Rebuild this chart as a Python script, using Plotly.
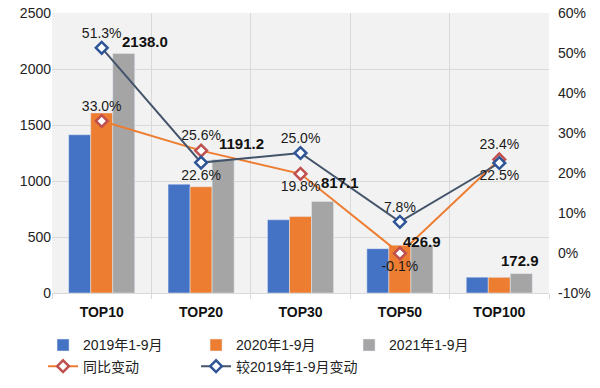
import plotly.graph_objects as go

categories = ["TOP10", "TOP20", "TOP30", "TOP50", "TOP100"]
sales_2019 = [1413.0, 971.6, 653.7, 396.0, 141.1]
sales_2020 = [1607.5, 948.4, 682.1, 427.3, 140.1]
sales_2021 = [2138.0, 1191.2, 817.1, 426.9, 172.9]
yoy_change = [33.0, 25.6, 19.8, -0.1, 23.4]
vs2019_change = [51.3, 22.6, 25.0, 7.8, 22.5]
yoy_text_pos = ["top center", "top center", "bottom center", "bottom center", "top center"]
vs2019_text_pos = ["top center", "bottom center", "top center", "top center", "bottom center"]
left_ticks = [0, 500, 1000, 1500, 2000, 2500]
right_ticks = [-10, 0, 10, 20, 30, 40, 50, 60]
right_tick_labels = ["-10%", "0%", "10%", "20%", "30%", "40%", "50%", "60%"]

# pixel nudges of the 2021 value labels (as placed in the original chart)
label_xshift = [43, 40, 39, 22, 21]
label_yshift = [2, 6, 8, -7, 3]

FONT = "Liberation Sans, Arial, Noto Sans CJK SC, sans-serif"

fig = go.Figure()
fig.add_trace(go.Bar(x=categories, y=sales_2019, name="2019年1-9月", marker_color="#4472C4"))
fig.add_trace(go.Bar(x=categories, y=sales_2020, name="2020年1-9月", marker_color="#ED7D31"))
fig.add_trace(go.Bar(x=categories, y=sales_2021, name="2021年1-9月", marker_color="#A5A5A5"))

fig.add_trace(go.Scatter(
    x=categories, y=yoy_change, name="同比变动", yaxis="y2",
    mode="lines+markers+text",
    line=dict(color="#ED7D31", width=2),
    marker=dict(symbol="diamond", size=9, color="white", line=dict(color="#C0504D", width=2.5)),
    text=[f"{v:.1f}%" for v in yoy_change], textposition=yoy_text_pos,
    textfont=dict(size=14, color="#1a1a1a"),
))
fig.add_trace(go.Scatter(
    x=categories, y=vs2019_change, name="较2019年1-9月变动", yaxis="y2",
    mode="lines+markers+text",
    line=dict(color="#44546A", width=2),
    marker=dict(symbol="diamond", size=9, color="white", line=dict(color="#2F5597", width=2.5)),
    text=[f"{v:.1f}%" for v in vs2019_change], textposition=vs2019_text_pos,
    textfont=dict(size=14, color="#1a1a1a"),
))

for c, v, dx, dy in zip(categories, sales_2021, label_xshift, label_yshift):
    fig.add_annotation(x=c, y=v, xref="x", yref="y", text=f"<b>{v:.1f}</b>",
                       showarrow=False, xshift=dx, yanchor="bottom", yshift=dy,
                       font=dict(size=15, color="#111111"))

fig.update_layout(
    width=600, height=388,
    margin=dict(l=52, r=51, t=13, b=95, autoexpand=False),
    paper_bgcolor="white", plot_bgcolor="#F2F2F2",
    font=dict(family=FONT, size=14, color="#222222"),
    barmode="group", bargap=0.335, bargroupgap=0,
    showlegend=True,
    legend=dict(orientation="h", x=-0.018, y=-0.13, xanchor="left", yanchor="top",
                entrywidth=108, font=dict(size=14, color="#222222"),
                tracegroupgap=0, itemwidth=30),
    xaxis=dict(type="category", tickson="boundaries", showgrid=True, gridcolor="#D9D9D9",
               showline=True, linecolor="#D9D9D9", ticks="outside", ticklen=5, tickcolor="#D9D9D9",
               tickfont=dict(size=14, color="#111111", family=FONT), tickprefix="<b>", ticksuffix="</b>",
               range=[-0.5, 4.5], automargin=False, ticklabelstandoff=6),
    yaxis=dict(range=[0, 2500], tickvals=left_ticks, showgrid=True, gridcolor="#D9D9D9",
               zeroline=False, tickfont=dict(size=14), ticks="", automargin=False),
    yaxis2=dict(range=[-10, 60], tickvals=right_ticks, ticktext=right_tick_labels,
                overlaying="y", side="right", showgrid=False,
                zeroline=False, tickfont=dict(size=14), automargin=False, ticklabelstandoff=8),
)

fig.write_html("out.html", config={"displayModeBar": False},
               post_script="document.body.style.margin='0';document.body.style.padding='0';")
